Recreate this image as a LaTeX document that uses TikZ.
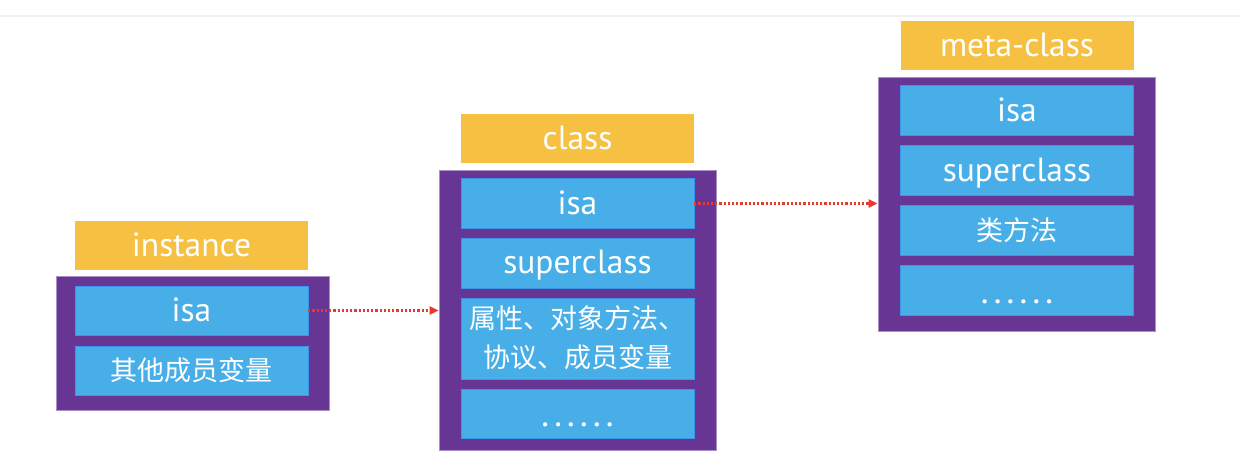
\documentclass[tikz,border=0pt]{standalone}
\usepackage{fontspec}
\setmainfont{PT Sans}
\newfontfamily\cjk{Noto Sans CJK SC}
\usetikzlibrary{positioning,arrows.meta}
\definecolor{frameviolet}{HTML}{673695}
\definecolor{fieldblue}{HTML}{48AEE8}
\definecolor{titleyellow}{HTML}{F6C143}
\definecolor{ptrred}{HTML}{E8392E}
\newcommand{\fieldFont}{\fontsize{33.5}{38}\selectfont}
\newcommand{\cjkFont}{\cjk\fontsize{27}{39}\selectfont}

\begin{document}
\begin{tikzpicture}[x=1pt, y=-1pt]
  \tikzset{
    frame/.style={fill=frameviolet, draw=frameviolet!55!white, line width=0.6pt, minimum width=277pt, inner sep=0pt},
    title/.style={fill=titleyellow, text=white, minimum width=233pt, minimum height=49pt, inner sep=0pt, font=\fieldFont, text height=28.5pt, text depth=7pt},
    field/.style={fill=fieldblue, draw=fieldblue!85!blue, line width=0.5pt, text=white, minimum width=233pt, minimum height=49.5pt, inner sep=0pt, font=\fieldFont, text height=28.5pt, text depth=7pt},
    cjkfield/.style={field, font=\cjkFont, align=center, text height=, text depth=},
    morefield/.style={field, font=\fontsize{36}{40}\selectfont, text height=33pt, text depth=7pt},
    ptr/.style={-{Triangle[length=9pt,width=8pt]}, ptrred, line width=2.2pt, dash pattern=on 2.2pt off 2pt}
  }
  \useasboundingbox (0,0) rectangle (1240,465);
  \draw[black!5, line width=1.5pt] (0,16) -- (1240,16);
  % instance
  \node[title] (inst-name) at (191.5,245.5) {instance};
  \node[frame, minimum width=273pt, minimum height=134pt] (inst-frame) at (192.5,343) {};
  \node[field] (inst-isa) at (191.5,310.5) {isa};
  \node[cjkfield, below=10pt of inst-isa] (inst-vars) {其他成员变量};
  % class
  \node[title] (cls-name) at (577.5,139) {class};
  \node[frame, minimum height=280pt] (cls-frame) at (577.5,310) {};
  \node[field] (cls-isa) at (577.5,203.5) {isa};
  \node[field, below=9.5pt of cls-isa] (cls-super) {superclass};
  \node[cjkfield, minimum height=81pt, below=9.5pt of cls-super] (cls-props) {属性、对象方法、\\协议、成员变量};
  \node[morefield, below=9.5pt of cls-props] (cls-more) {\addfontfeature{LetterSpace=8}......};
  % meta-class
  \node[title] (meta-name) at (1017,46) {meta-class};
  \node[frame, minimum height=254pt] (meta-frame) at (1016.5,204) {};
  \node[field] (meta-isa) at (1017,110.5) {isa};
  \node[field, below=10pt of meta-isa] (meta-super) {superclass};
  \node[cjkfield, below=10pt of meta-super] (meta-methods) {类方法};
  \node[morefield, below=10pt of meta-methods] (meta-more) {\addfontfeature{LetterSpace=8}......};
  % isa pointers
  \draw[ptr] (inst-isa.east) -- (inst-isa.east -| cls-frame.west);
  \draw[ptr] (cls-isa.east) -- (cls-isa.east -| meta-frame.west);
\end{tikzpicture}
\end{document}
